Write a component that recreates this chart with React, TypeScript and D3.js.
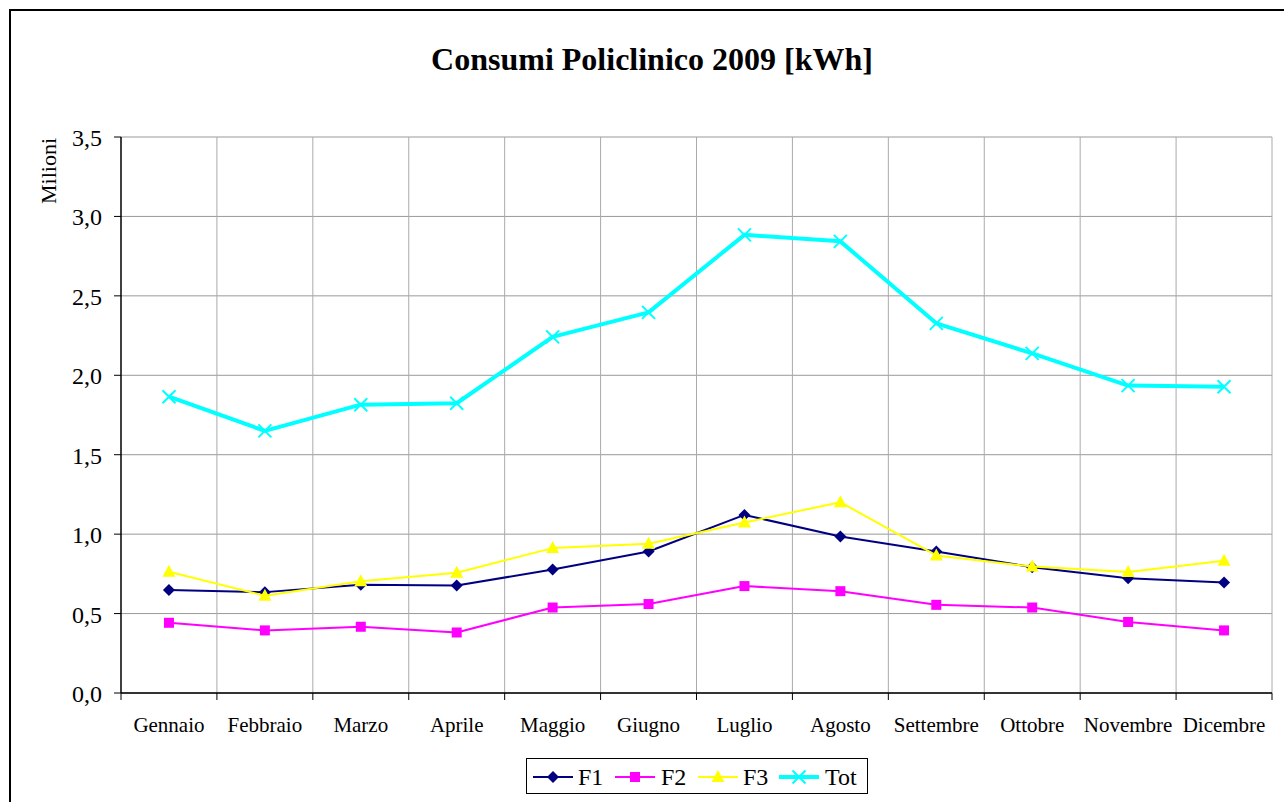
import React from "react";
import * as d3 from "d3";

const months = ["Gennaio", "Febbraio", "Marzo", "Aprile", "Maggio", "Giugno", "Luglio", "Agosto", "Settembre", "Ottobre", "Novembre", "Dicembre"];
const f1 = [0.648, 0.635, 0.681, 0.677, 0.777, 0.891, 1.121, 0.985, 0.891, 0.792, 0.723, 0.696];
const f2 = [0.442, 0.394, 0.417, 0.381, 0.538, 0.560, 0.673, 0.641, 0.555, 0.538, 0.447, 0.394];
const f3 = [0.763, 0.612, 0.704, 0.757, 0.912, 0.939, 1.073, 1.201, 0.866, 0.796, 0.761, 0.832];
const tot = [1.865, 1.650, 1.815, 1.824, 2.242, 2.396, 2.884, 2.843, 2.327, 2.138, 1.935, 1.928];
const yTicks = [0, 0.5, 1, 1.5, 2, 2.5, 3, 3.5];

const series = [
  { name: "F1", values: f1, color: "#000080", width: 2, marker: "diamond" },
  { name: "F2", values: f2, color: "#FF00FF", width: 2, marker: "square" },
  { name: "F3", values: f3, color: "#FFFF00", width: 2, marker: "triangle" },
  { name: "Tot", values: tot, color: "#00FFFF", width: 4, marker: "cross" },
];

const W = 1284;
const H = 802;
const left = 121;
const right = 1272;
const top = 137;
const bottom = 693;
const font = "'Liberation Serif', 'Times New Roman', serif";

const x = d3.scaleBand().domain(months).range([left, right]);
const y = d3.scaleLinear().domain([0, 3.5]).range([bottom, top]);
const fmt = (v: number) => v.toFixed(1).replace(".", ",");

function Marker({ type, cx, cy, color }: { type: string; cx: number; cy: number; color: string }) {
  if (type === "diamond") {
    const s = 6;
    return <path d={`M${cx},${cy - s}L${cx + s},${cy}L${cx},${cy + s}L${cx - s},${cy}Z`} fill={color} />;
  }
  if (type === "square") {
    return <rect x={cx - 5} y={cy - 5} width={10} height={10} fill={color} />;
  }
  if (type === "triangle") {
    return <path d={`M${cx},${cy - 7}L${cx + 6.5},${cy + 5}L${cx - 6.5},${cy + 5}Z`} fill={color} />;
  }
  const s = 6.5;
  return (
    <path
      d={`M${cx - s},${cy - s}L${cx + s},${cy + s}M${cx - s},${cy + s}L${cx + s},${cy - s}`}
      stroke={color}
      strokeWidth={2}
      fill="none"
    />
  );
}

const App = () => {
  const line = d3
    .line<number>()
    .x((_, i) => (x(months[i]) as number) + x.bandwidth() / 2)
    .y((d) => y(d));

  const boundaries = d3.range(months.length + 1).map((i) => left + i * x.step());

  const legendItems = [
    { x0: 533, tx: 578 },
    { x0: 615, tx: 661 },
    { x0: 698, tx: 743 },
    { x0: 779, tx: 825 },
  ];

  return (
    <svg width={W} height={H} style={{ position: "absolute", left: 0, top: 0, background: "#fff" }}>
      <rect x={10} y={10} width={W + 10} height={H + 10} fill="#fff" stroke="#000" strokeWidth={2} />
      <text x={652} y={70} textAnchor="middle" fontFamily={font} fontSize={32} fontWeight="bold">
        Consumi Policlinico 2009 [kWh]
      </text>

      {/* griglia orizzontale */}
      {yTicks.map((t) => (
        <line key={"h" + t} x1={left} x2={right} y1={y(t)} y2={y(t)} stroke="#999" strokeWidth={1} />
      ))}
      {/* griglia verticale */}
      {boundaries.slice(1).map((bx, i) => (
        <line key={"v" + i} x1={bx} x2={bx} y1={top} y2={bottom} stroke="#aaa" strokeWidth={1} />
      ))}

      {/* assi */}
      <line x1={left} x2={left} y1={top} y2={bottom} stroke="#000" strokeWidth={1.5} />
      <line x1={left} x2={right} y1={bottom} y2={bottom} stroke="#000" strokeWidth={1.5} />
      {yTicks.map((t) => (
        <g key={"yt" + t}>
          <line x1={left - 7} x2={left} y1={y(t)} y2={y(t)} stroke="#000" strokeWidth={1} />
          <text x={102} y={y(t) + 9} textAnchor="end" fontFamily={font} fontSize={24}>
            {fmt(t)}
          </text>
        </g>
      ))}
      {boundaries.map((bx, i) => (
        <line key={"xt" + i} x1={bx} x2={bx} y1={bottom} y2={bottom + 7} stroke="#000" strokeWidth={1} />
      ))}
      {months.map((m) => (
        <text
          key={m}
          x={(x(m) as number) + x.bandwidth() / 2}
          y={732}
          textAnchor="middle"
          fontFamily={font}
          fontSize={21}
        >
          {m}
        </text>
      ))}
      <text
        transform={`translate(56,171) rotate(-90)`}
        textAnchor="middle"
        fontFamily={font}
        fontSize={22}
      >
        Milioni
      </text>

      {/* serie */}
      {series.map((s) => (
        <g key={s.name}>
          <path d={line(s.values) || ""} fill="none" stroke={s.color} strokeWidth={s.width} strokeLinejoin="round" />
          {s.values.map((v, i) => (
            <Marker
              key={i}
              type={s.marker}
              cx={(x(months[i]) as number) + x.bandwidth() / 2}
              cy={y(v)}
              color={s.color}
            />
          ))}
        </g>
      ))}

      {/* legenda */}
      <rect x={526.5} y={758.5} width={341} height={35} fill="#fff" stroke="#000" strokeWidth={1} />
      {series.map((s, i) => (
        <g key={"lg" + s.name}>
          <line
            x1={legendItems[i].x0}
            x2={legendItems[i].x0 + 40}
            y1={777}
            y2={777}
            stroke={s.color}
            strokeWidth={s.width}
          />
          <Marker type={s.marker} cx={legendItems[i].x0 + 20} cy={777} color={s.color} />
          <text x={legendItems[i].tx} y={785} fontFamily={font} fontSize={24}>
            {s.name}
          </text>
        </g>
      ))}
    </svg>
  );
};

export default App;
